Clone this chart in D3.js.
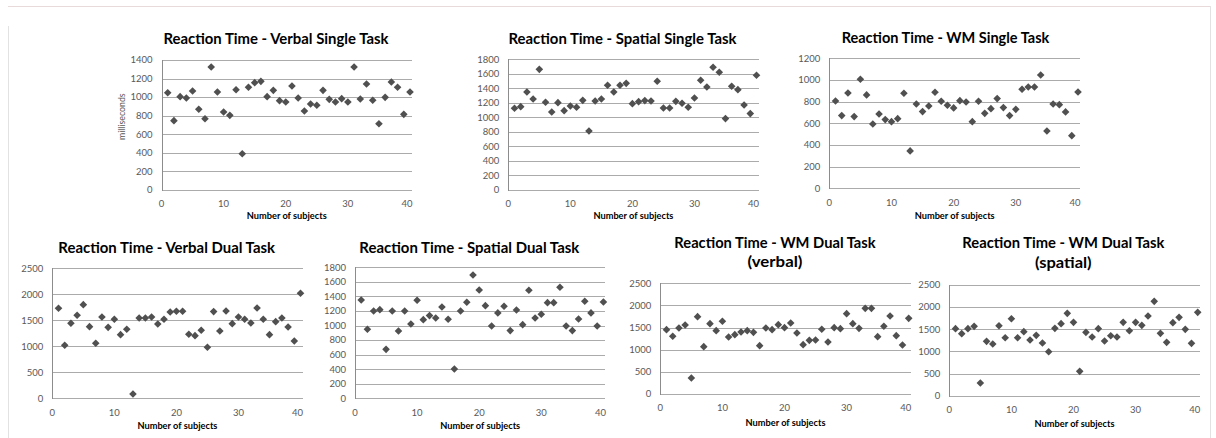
<!DOCTYPE html>
<html>
<head>
  <meta charset="utf-8">
  <title>Reaction Time</title>
  <script src="https://cdn.jsdelivr.net/npm/d3@7"></script>
  <style>
    body { margin: 0; background: #fff; }
    svg { display: block; font-family: Lato, "Open Sans", sans-serif; }
    .grid line { stroke: #ababab; stroke-width: 1; shape-rendering: crispEdges; }
    .axis-line { stroke: #8c8c8c; stroke-width: 1; shape-rendering: crispEdges; }
    .tick-label { fill: #595959; font-size: 9.5px; }
    .chart-title { fill: #000; font-weight: bold; font-size: 16px; }
    .x-title { fill: #000; font-weight: bold; font-size: 9.5px; }
    .dot { fill: #505050; }
  </style>
</head>
<body>
<svg id="fig" width="1216" height="438"></svg>
<script>
  // subjects 1..40 on the x axis
  var subjects = d3.range(1, 41);
  var xTicks = [0, 10, 20, 30, 40];

  var ticks1200 = [0, 200, 400, 600, 800, 1000, 1200];
  var ticks1400 = [0, 200, 400, 600, 800, 1000, 1200, 1400];
  var ticks1800 = [0, 200, 400, 600, 800, 1000, 1200, 1400, 1600, 1800];
  var ticks2500 = [0, 500, 1000, 1500, 2000, 2500];

  var verbalSingle = [1048, 747, 1005, 991, 1066, 869, 768, 1325, 1055, 840,
    804, 1080, 391, 1106, 1156, 1170, 1005, 1073, 962, 948,
    1120, 991, 851, 926, 912, 1073, 976, 948, 984, 948,
    1325, 980, 1142, 966, 714, 998, 1163, 1106, 815, 1055];

  var spatialSingle = [1125, 1148, 1350, 1254, 1662, 1208, 1074, 1203, 1093, 1157,
    1139, 1235, 813, 1226, 1254, 1442, 1350, 1442, 1469, 1189,
    1217, 1231, 1226, 1497, 1130, 1130, 1221, 1194, 1139, 1267,
    1511, 1419, 1690, 1621, 983, 1428, 1382, 1171, 1052, 1580];

  var wmSingle = [806, 671, 880, 662, 1006, 862, 594, 686, 634, 615,
    643, 877, 345, 778, 708, 760, 886, 803, 766, 742,
    809, 797, 615, 803, 692, 735, 828, 745, 671, 729,
    914, 935, 935, 1046, 529, 778, 772, 705, 486, 889];

  var verbalDual = [1731, 1019, 1442, 1596, 1801, 1378, 1058, 1564, 1365, 1519,
    1224, 1327, 83, 1545, 1545, 1564, 1429, 1519, 1660, 1673,
    1673, 1231, 1205, 1308, 981, 1667, 1295, 1679, 1436, 1564,
    1519, 1449, 1737, 1519, 1224, 1474, 1545, 1372, 1103, 2019];

  var spatialDual = [1351, 948, 1200, 1218, 673, 1200, 925, 1200, 1021, 1347,
    1081, 1136, 1104, 1255, 1086, 403, 1200, 1319, 1695, 1489,
    1273, 994, 1173, 1264, 930, 1214, 1012, 1484, 1104, 1154,
    1314, 1314, 1525, 994, 930, 1090, 1333, 1173, 994, 1324];

  var wmDualVerbal = [1453, 1303, 1491, 1559, 361, 1747, 1069, 1589, 1431, 1642,
    1288, 1340, 1401, 1431, 1393, 1092, 1491, 1453, 1566, 1498,
    1604, 1378, 1114, 1212, 1220, 1461, 1175, 1498, 1476, 1815,
    1589, 1483, 1935, 1935, 1295, 1529, 1762, 1318, 1107, 1709];

  var wmDualSpatial = [1514, 1401, 1514, 1566, 286, 1227, 1167, 1581, 1310, 1739,
    1310, 1446, 1258, 1363, 1190, 994, 1521, 1627, 1860, 1657,
    550, 1431, 1325, 1514, 1235, 1355, 1325, 1657, 1468, 1657,
    1589, 1800, 2131, 1408, 1205, 1649, 1770, 1498, 1182, 1883];

  var panels = [
    { title: ['Reaction Time - Verbal Single Task'], tw: [225], tx: 276, ty: 43.5,
      values: verbalSingle, ticks: ticks1400, left: 161.5, right: 410, top: 60, bottom: 190,
      xlabY: 219, ylab: 'milliseconds' },
    { title: ['Reaction Time - Spatial Single Task'], tw: [228], tx: 622.5, ty: 43.5,
      values: spatialSingle, ticks: ticks1800, left: 508.3, right: 756.5, top: 59.3, bottom: 190,
      xlabY: 219 },
    { title: ['Reaction Time - WM Single Task'], tw: [207.7], tx: 945.5, ty: 42.8,
      values: wmSingle, ticks: ticks1200, left: 829.3, right: 1078, top: 58.3, bottom: 188.3,
      xlabY: 219 },
    { title: ['Reaction Time - Verbal Dual Task'], tw: [216.7], tx: 166.7, ty: 252.7,
      values: verbalDual, ticks: ticks2500, left: 52.3, right: 300.5, top: 268.3, bottom: 398.3,
      xlabY: 429 },
    { title: ['Reaction Time - Spatial Dual Task'], tw: [220], tx: 469.3, ty: 252.7,
      values: spatialDual, ticks: ticks1800, left: 355, right: 603.4, top: 267.3, bottom: 398.3,
      xlabY: 429 },
    { title: ['Reaction Time - WM Dual Task', '(verbal)'], tw: [201.3, 55], tx: 775, ty: 247.5,
      values: wmDualVerbal, ticks: ticks2500, left: 660.3, right: 908.7, top: 283.3, bottom: 394,
      xlabY: 425.7 },
    { title: ['Reaction Time - WM Dual Task', '(spatial)'], tw: [202, 56.7], tx: 1063.3, ty: 248.3,
      values: wmDualSpatial, ticks: ticks2500, left: 949.3, right: 1197.7, top: 285, bottom: 395.7,
      xlabY: 427.3 }
  ];

  var svg = d3.select('#fig');

  // outer frame of the figure
  svg.append('line').attr('x1', 8).attr('x2', 1210.5).attr('y1', 6.5).attr('y2', 6.5)
    .attr('stroke', '#e8dada');
  svg.append('line').attr('x1', 8.5).attr('x2', 8.5).attr('y1', 26).attr('y2', 438)
    .attr('stroke', '#e2e2e2');
  svg.append('line').attr('x1', 1210.5).attr('x2', 1210.5).attr('y1', 6).attr('y2', 438)
    .attr('stroke', '#e2e2e2');

  var diamond = d3.symbol().type(d3.symbolSquare).size(29);

  panels.forEach(function(p) {
    var g = svg.append('g');
    var yMax = p.ticks[p.ticks.length - 1];
    var x = d3.scaleLinear().domain([0, 40]).range([p.left, p.right]);
    var y = d3.scaleLinear().domain([0, yMax]).range([p.bottom, p.top]);

    // horizontal gridlines
    g.append('g').attr('class', 'grid')
      .selectAll('line').data(p.ticks).join('line')
        .attr('x1', p.left).attr('x2', p.right + 2)
        .attr('y1', function(d) { return Math.round(y(d)) + 0.5; })
        .attr('y2', function(d) { return Math.round(y(d)) + 0.5; });

    g.append('line').attr('class', 'axis-line')
      .attr('x1', Math.round(p.left) + 0.5).attr('x2', Math.round(p.left) + 0.5)
      .attr('y1', Math.round(y(yMax))).attr('y2', Math.round(p.bottom) + 1);

    // y tick labels
    g.selectAll('.ylab').data(p.ticks).join('text')
      .attr('class', 'tick-label')
      .attr('x', p.left - 9)
      .attr('y', function(d) { return y(d); })
      .attr('dy', '0.35em')
      .attr('text-anchor', 'end')
      .text(function(d) { return d; });

    // x tick labels
    g.selectAll('.xlab').data(xTicks).join('text')
      .attr('class', 'tick-label')
      .attr('x', function(d) { return x(d) - (d === 40 ? 3 : 0); })
      .attr('y', p.bottom + 14)
      .attr('dy', '0.35em')
      .attr('text-anchor', 'middle')
      .text(function(d) { return d; });

    // titles
    p.title.forEach(function(t, i) {
      g.append('text').attr('class', 'chart-title')
        .attr('x', p.tx).attr('y', p.ty + i * 19.5)
        .attr('text-anchor', 'middle')
        .attr('textLength', p.tw[i])
        .attr('lengthAdjust', 'spacingAndGlyphs')
        .text(t);
    });

    g.append('text').attr('class', 'x-title')
      .attr('x', (p.left + p.right) / 2 + 1).attr('y', p.xlabY)
      .attr('text-anchor', 'middle')
      .attr('textLength', 80)
      .attr('lengthAdjust', 'spacingAndGlyphs')
      .text('Number of subjects');

    if (p.ylab) {
      g.append('text').attr('class', 'tick-label')
        .attr('transform', 'translate(125,' + 116.7 + ') rotate(-90)')
        .attr('text-anchor', 'middle')
        .attr('textLength', 46.7)
        .attr('lengthAdjust', 'spacingAndGlyphs')
        .text(p.ylab);
    }

    // diamond markers
    g.selectAll('.dot').data(p.values).join('path')
      .attr('class', 'dot')
      .attr('d', diamond)
      .attr('transform', function(d, i) {
        return 'translate(' + x(subjects[i]) + ',' + y(d) + ') rotate(45)';
      });
  });
</script>
</body>
</html>
